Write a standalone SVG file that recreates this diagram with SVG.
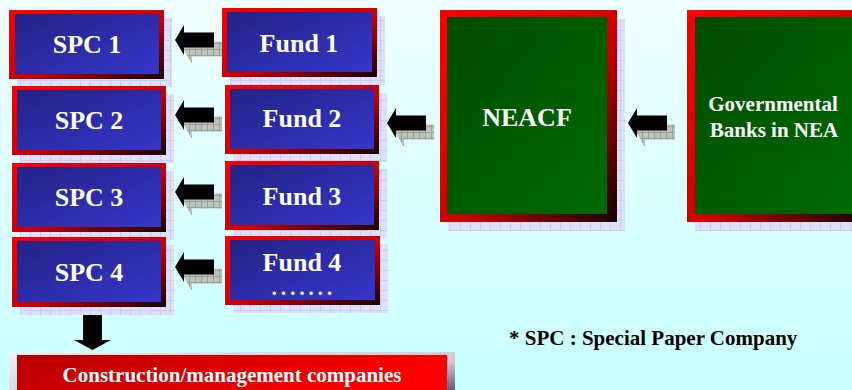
<svg xmlns="http://www.w3.org/2000/svg" width="852" height="390" viewBox="0 0 852 390">
  <defs>
    <linearGradient id="bg" x1="0" y1="0" x2="0" y2="1">
      <stop offset="0" stop-color="#f0ffff"/>
      <stop offset="1" stop-color="#c8ffff"/>
    </linearGradient>
    <!-- red frame: bright top-left, dark bottom-right -->
    <linearGradient id="frame" x1="0" y1="0" x2="1" y2="1">
      <stop offset="0" stop-color="#ff0000"/>
      <stop offset="0.55" stop-color="#cc0000"/>
      <stop offset="1" stop-color="#150000"/>
    </linearGradient>
    <linearGradient id="blue" x1="0" y1="0" x2="1" y2="1">
      <stop offset="0" stop-color="#232385"/>
      <stop offset="1" stop-color="#3636cc"/>
    </linearGradient>
    <linearGradient id="green" x1="0" y1="0" x2="1" y2="1">
      <stop offset="0" stop-color="#004c00"/>
      <stop offset="1" stop-color="#006a00"/>
    </linearGradient>
    <linearGradient id="redfill" x1="0" y1="0" x2="1" y2="0.3">
      <stop offset="0" stop-color="#b80000"/>
      <stop offset="1" stop-color="#ff0000"/>
    </linearGradient>
    <linearGradient id="bevel" x1="0" y1="0" x2="1" y2="1">
      <stop offset="0" stop-color="#f4f4f4"/>
      <stop offset="0.6" stop-color="#c8c8d0"/>
      <stop offset="1" stop-color="#303068"/>
    </linearGradient>
    <!-- checkered drop shadow behind boxes -->
    <pattern id="boxShade" width="10" height="10" patternUnits="userSpaceOnUse">
      <rect width="10" height="10" fill="#dde1ff"/>
      <path d="M0,0.5H10M0.5,0V10" stroke="#c9cdf4" stroke-width="1"/>
    </pattern>
    <!-- grey checkered shadow behind arrows -->
    <pattern id="arrowShade" width="6" height="6" patternUnits="userSpaceOnUse">
      <rect width="6" height="6" fill="#bcc4bc"/>
      <path d="M0,0.5H6M0.5,0V6" stroke="#98a098" stroke-width="1"/>
    </pattern>
    <path id="leftArrow" d="M0,0 L9,-15 L9,-7.5 L39,-7.5 L39,7.5 L9,7.5 L9,15 Z"/>
  </defs>
  <style>
    .frame { fill: url(#frame); }
    .blue { fill: url(#blue); }
    .green { fill: url(#green); }
    .shade { fill: url(#boxShade); }
    .lbl { font-family: "Liberation Serif", "Times New Roman", serif; font-weight: bold; fill: #ffffff; text-anchor: middle; }
    .big { font-size: 26px; }
    .mid { font-size: 21px; }
    .dots { font-size: 20px; letter-spacing: 4.2px; }
    .note { font-family: "Liberation Serif", "Times New Roman", serif; font-weight: bold; font-size: 21px; fill: #000000; }
    .arrow { fill: #000000; }
    .ashade { fill: url(#arrowShade); }
  </style>

  <rect width="852" height="390" fill="url(#bg)"/>

  <!-- connectors -->
  <g id="connectors">
    <g transform="translate(175,40)"><use href="#leftArrow" class="ashade" x="8" y="9"/><use href="#leftArrow" class="arrow"/></g>
    <g transform="translate(175,115)"><use href="#leftArrow" class="ashade" x="8" y="9"/><use href="#leftArrow" class="arrow"/></g>
    <g transform="translate(175,192)"><use href="#leftArrow" class="ashade" x="8" y="9"/><use href="#leftArrow" class="arrow"/></g>
    <g transform="translate(175,267)"><use href="#leftArrow" class="ashade" x="8" y="9"/><use href="#leftArrow" class="arrow"/></g>
    <g transform="translate(387,123)"><use href="#leftArrow" class="ashade" x="8" y="9"/><use href="#leftArrow" class="arrow"/></g>
    <g transform="translate(628,123)"><use href="#leftArrow" class="ashade" x="8" y="9"/><use href="#leftArrow" class="arrow"/></g>
    <path class="arrow" d="M83,313 H102 V340 H111 L92.5,350 L74,340 H83 Z"/>
  </g>

  <g id="spc1">
    <rect class="shade" x="17" y="18" width="155" height="69"/>
    <rect class="frame" x="9" y="10" width="155" height="69"/>
    <rect class="blue" x="15" y="14" width="144" height="60"/>
    <text class="lbl big" x="87" y="53">SPC 1</text>
  </g>
  <g id="spc2">
    <rect class="shade" x="20" y="94" width="154" height="69"/>
    <rect class="frame" x="12" y="86" width="154" height="69"/>
    <rect class="blue" x="17" y="90" width="144" height="60"/>
    <text class="lbl big" x="89" y="129">SPC 2</text>
  </g>
  <g id="spc3">
    <rect class="shade" x="20" y="171" width="154" height="69"/>
    <rect class="frame" x="12" y="163" width="154" height="69"/>
    <rect class="blue" x="17" y="167" width="144" height="60"/>
    <text class="lbl big" x="89" y="206">SPC 3</text>
  </g>
  <g id="spc4">
    <rect class="shade" x="20" y="245" width="154" height="70"/>
    <rect class="frame" x="12" y="237" width="154" height="70"/>
    <rect class="blue" x="17" y="241" width="144" height="61"/>
    <text class="lbl big" x="89" y="281">SPC 4</text>
  </g>

  <g id="fund1">
    <rect class="shade" x="230" y="16" width="155" height="69"/>
    <rect class="frame" x="222" y="8" width="155" height="69"/>
    <rect class="blue" x="227" y="12" width="145" height="60"/>
    <text class="lbl big" x="299" y="52">Fund 1</text>
  </g>
  <g id="fund2">
    <rect class="shade" x="233" y="93" width="154" height="69"/>
    <rect class="frame" x="225" y="85" width="154" height="69"/>
    <rect class="blue" x="230" y="89" width="144" height="60"/>
    <text class="lbl big" x="302" y="127">Fund 2</text>
  </g>
  <g id="fund3">
    <rect class="shade" x="233" y="169" width="154" height="69"/>
    <rect class="frame" x="225" y="161" width="154" height="69"/>
    <rect class="blue" x="230" y="165" width="144" height="60"/>
    <text class="lbl big" x="302" y="205">Fund 3</text>
  </g>
  <g id="fund4">
    <rect class="shade" x="233" y="244" width="155" height="69"/>
    <rect class="frame" x="225" y="236" width="155" height="69"/>
    <rect class="blue" x="230" y="240" width="145" height="60"/>
    <text class="lbl big" x="302" y="271">Fund 4</text>
    <text class="lbl dots" x="304" y="295">.......</text>
  </g>

  <g id="neacf">
    <rect class="shade" x="448" y="19" width="177" height="212"/>
    <rect class="frame" x="440" y="10" width="177" height="212"/>
    <rect class="green" x="447" y="17" width="160" height="197"/>
    <text class="lbl big" x="527" y="126">NEACF</text>
  </g>

  <g id="gov-banks">
    <rect class="shade" x="695" y="19" width="177" height="212"/>
    <rect class="frame" x="687" y="10" width="177" height="212"/>
    <rect class="green" x="695" y="17" width="160" height="197"/>
    <text class="lbl mid" x="773" y="111">Governmental</text>
    <text class="lbl mid" x="774" y="137">Banks in NEA</text>
  </g>

  <g id="construction">
    <rect x="9" y="352" width="446" height="50" fill="url(#bevel)"/>
    <rect x="17" y="355" width="430" height="45" fill="url(#redfill)"/>
    <text class="lbl mid" x="232" y="382">Construction/management companies</text>
  </g>

  <g id="footnote">
    <text class="note" x="509" y="345">* SPC : Special Paper Company</text>
  </g>
</svg>
